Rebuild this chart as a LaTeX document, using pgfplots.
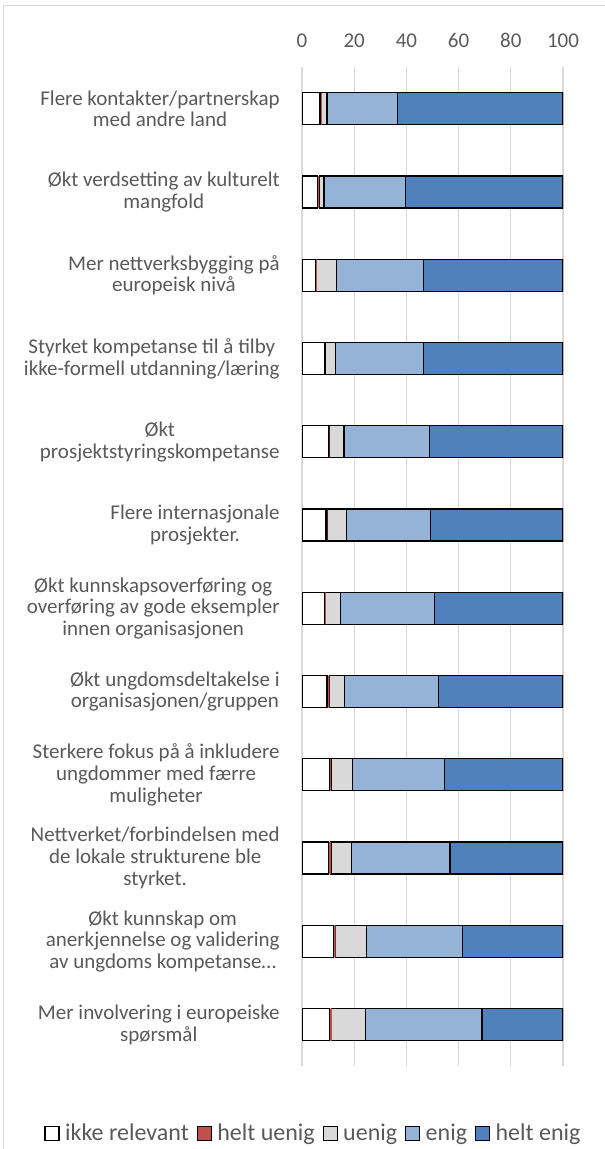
\documentclass[border=0pt]{standalone}
\usepackage{pgfplots}
\usepackage{pgfplotstable}
\pgfplotsset{compat=1.18}
\usepackage{fontspec}
\setmainfont{Carlito}
\definecolor{cHE}{HTML}{4F81BD}
\definecolor{cE}{HTML}{95B3D7}
\definecolor{cU}{HTML}{D9D9D9}
\definecolor{cHU}{HTML}{C0504D}
\definecolor{cTxt}{HTML}{595959}
\definecolor{cGrid}{HTML}{D9D9D9}
\pgfplotstableread{
y ikke hu u e he
0 6.9 0.7 2.0 26.9 63.5
1 6.0 0.6 1.8 31.3 60.3
2 5.1 0.6 7.5 33.2 53.6
3 8.6 0.2 3.9 33.9 53.4
4 10.0 0.5 5.6 32.6 51.3
5 9.2 0.5 7.5 32.1 50.7
6 8.6 0.5 5.5 36.2 49.2
7 9.6 0.9 5.7 36.0 47.8
8 10.5 0.6 8.4 35.2 45.3
9 10.3 0.8 7.8 37.8 43.3
10 12.1 0.8 11.7 36.8 38.6
11 10.6 0.8 12.9 44.7 31.0
}\data
\pgfplotsset{lg/.style={legend image code/.code={\draw[##1,/tikz/.cd,line width=0.6pt] (0pt,-3.5pt) rectangle (7pt,3.5pt);}}}
\begin{document}
\begin{tikzpicture}
\draw[cGrid, line width=0.5pt] (1.9pt,-2.9pt) rectangle (330pt,-600pt);
\node[anchor=base west, font=\fontsize{14}{16}\selectfont, text=black!80, inner sep=0pt] at (1pt,3.2pt) {gruppe (i prosent)};
\begin{axis}[
  at={(151pt,-33.6pt)}, anchor=north west,
  scale only axis, width=130.5pt, height=499.5pt,
  xbar stacked, bar width=16pt,
  xmin=0, xmax=100, ymin=-0.5, ymax=11.5, y dir=reverse,
  xtick={0,20,40,60,80,100},
  xticklabel pos=upper,
  xmajorgrids, grid style={cGrid, line width=0.6pt},
  axis line style={draw=none}, tick style={draw=none},
  /pgf/number format/assume math mode=true,
  xticklabel style={font=\fontsize{10.5}{12}\selectfont, text=cTxt, anchor=base, inner sep=0pt, yshift=10.1pt},
  ytick={0,...,11},
  yticklabels={{Flere kontakter/partnerskap\\med andre land},
    {Økt verdsetting av kulturelt\\mangfold},
    {Mer nettverksbygging på\\europeisk nivå},
    {Styrket kompetanse til å tilby\\ikke-formell utdanning/læring},
    {Økt\\prosjektstyringskompetanse},
    {Flere internasjonale\\prosjekter.},
    {Økt kunnskapsoverføring og\\overføring av gode eksempler\\innen organisasjonen},
    {Økt ungdomsdeltakelse i\\organisasjonen/gruppen},
    {Sterkere fokus på å inkludere\\ungdommer med færre\\muligheter},
    {Nettverket/forbindelsen med\\de lokale strukturene ble\\styrket.},
    {Økt kunnskap om\\anerkjennelse og validering\\av ungdoms kompetanse…},
    {Mer involvering i europeiske\\spørsmål}},
  yticklabel style={font=\fontsize{10.5}{10.85}\selectfont, text=cTxt, align=center, anchor=east, inner sep=0pt, xshift=-11pt},
  legend columns=5,
  legend style={at={(-0.98851,-0.06747)}, anchor=west, draw=none, fill=none, inner sep=0pt,
    font=\fontsize{12}{14}\selectfont, text=cTxt,
    nodes={inner sep=0pt},
    /tikz/every odd column/.style={column sep=2.75pt},
    /tikz/every even column/.style={column sep=3.9pt}},
  legend cell align=left,
]
\addplot[lg, fill=white, draw=black, line width=0.6pt] table[x=ikke,y=y] {\data};
\addplot[lg, fill=cHU, draw=none] table[x=hu,y=y] {\data};
\addplot[lg, fill=cU, draw=black, line width=0.6pt] table[x=u,y=y] {\data};
\addplot[lg, fill=cE, draw=black, line width=0.6pt] table[x=e,y=y] {\data};
\addplot[lg, fill=cHE, draw=black, line width=0.6pt] table[x=he,y=y] {\data};
\legend{ikke relevant, helt uenig, uenig, enig, helt enig}
\end{axis}
\pgfresetboundingbox
\path[use as bounding box] (0,0) rectangle (302pt,-574.5pt);
\end{tikzpicture}
\end{document}
